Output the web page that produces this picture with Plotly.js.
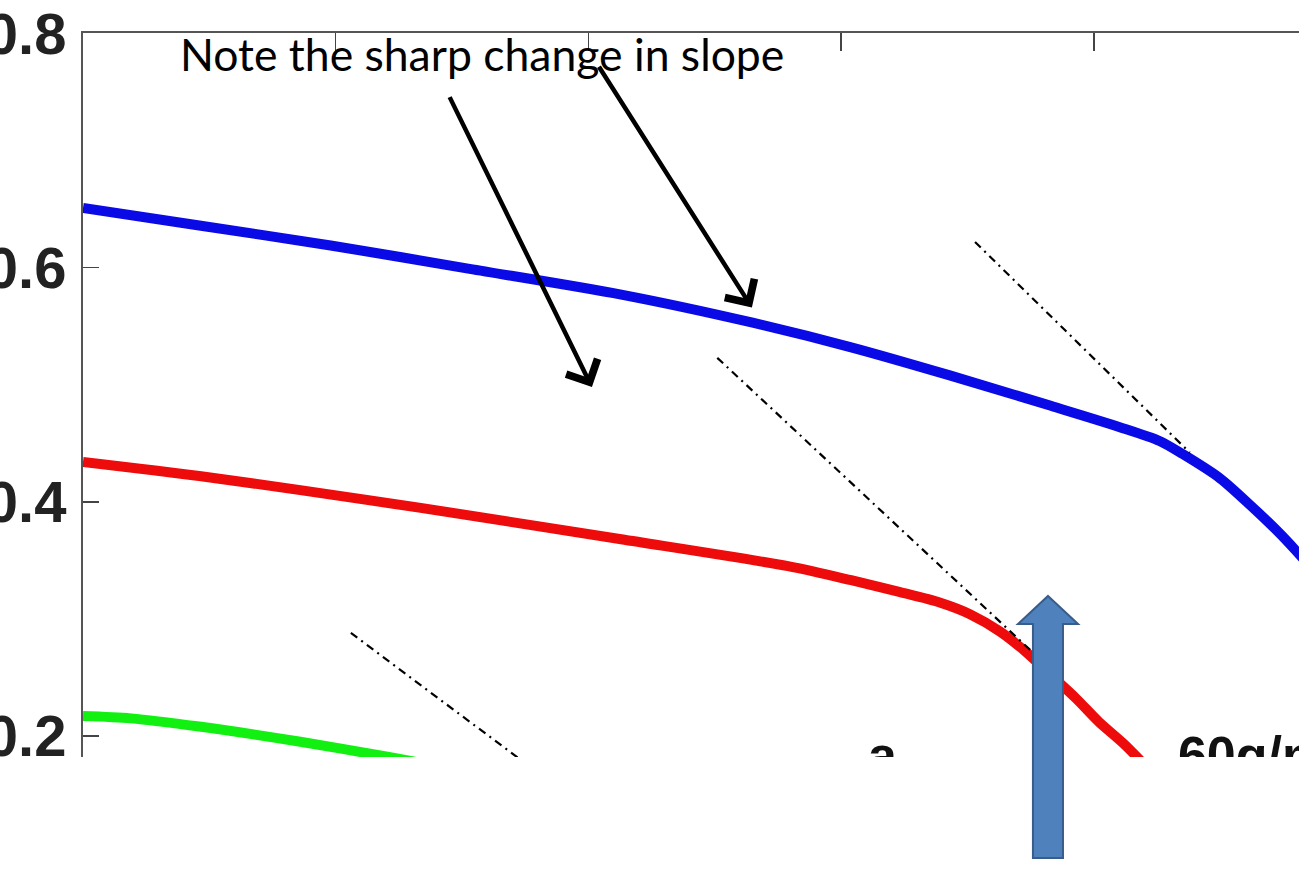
<!DOCTYPE html>
<html>
<head>
<meta charset="utf-8">
<script src="https://cdn.plot.ly/plotly-3.0.1.min.js"></script>
<style>
  html, body { margin: 0; padding: 0; background: #fff; overflow: hidden; }
  #chart { width: 1299px; height: 872px; }
</style>
</head>
<body>
<div id="chart"></div>
<script>
// values (x in tick units, y on the 0.2..0.8 scale)
const blueX = [0, 0.46, 0.98, 1.53, 2.13, 2.65, 3.04, 3.43, 3.83, 4.10, 4.26, 4.35, 4.50, 4.62, 4.74, 4.86];
const blueY = [0.651, 0.636, 0.619, 0.599, 0.577, 0.553, 0.532, 0.508, 0.482, 0.464, 0.452, 0.441, 0.420, 0.397, 0.372, 0.344];

const redX = [0, 0.46, 0.86, 1.33, 2.13, 2.79, 3.04, 3.23, 3.39, 3.51, 3.63, 3.73, 3.83, 3.93, 4.02, 4.12, 4.22];
const redY = [0.434, 0.422, 0.410, 0.395, 0.368, 0.345, 0.333, 0.323, 0.314, 0.304, 0.289, 0.272, 0.252, 0.232, 0.212, 0.193, 0.171];

const greenX = [0, 0.19, 0.46, 0.86, 1.21, 1.49];
const greenY = [0.217, 0.215, 0.208, 0.195, 0.182, 0.171];

// dash-dot tangents
const blueTanX = [3.53, 4.38];
const blueTanY = [0.622, 0.442];
const redTanX = [2.51, 3.80];
const redTanY = [0.523, 0.263];
const greenTanX = [1.06, 1.81];
const greenTanY = [0.288, 0.167];

// labels
const yTicks = [0.2, 0.4, 0.6, 0.8];
const yTickText = ['0.2', '0.4', '0.6', '0.8'];
const xTicks = [0, 1, 2, 3, 4];
const noteText = 'Note the sharp change in slope';
const bottomLabels = ['a', '60g/m²'];
const bottomLabelX = [3.106, 4.333];
const bottomLabelY = [0.2014, 0.2014];

function curve(x, y, color) {
    return {
        x: x, y: y,
        type: 'scatter',
        mode: 'lines',
        line: { color: color, width: 10, shape: 'spline', smoothing: 0.8 },
        hoverinfo: 'skip'
    };
}

function tangent(x, y) {
    return {
        x: x, y: y,
        type: 'scatter',
        mode: 'lines',
        line: { color: '#000', width: 2.2, dash: '8px,5px,2px,5px' },
        hoverinfo: 'skip'
    };
}

const traces = [
    curve(greenX, greenY, '#12f012'),
    curve(redX, redY, '#ee0b0b'),
    curve(blueX, blueY, '#0a0ae6'),
    tangent(greenTanX, greenTanY),
    tangent(redTanX, redTanY),
    tangent(blueTanX, blueTanY),
    {
        x: bottomLabelX, y: bottomLabelY,
        text: bottomLabels,
        type: 'scatter',
        mode: 'text',
        textposition: 'bottom right',
        cliponaxis: true,
        textfont: { family: 'Liberation Sans, Arial, sans-serif', size: 52, weight: 'bold', color: '#111' },
        hoverinfo: 'skip'
    }
];

const layout = {
    width: 1299,
    height: 872,
    margin: { l: 83, r: 0, t: 33, b: 115 },
    showlegend: false,
    paper_bgcolor: '#fff',
    plot_bgcolor: '#fff',
    xaxis: {
        side: 'top',
        range: [0, 4.812],
        tickvals: xTicks,
        ticks: 'inside',
        ticklen: 18,
        tickwidth: 1.5,
        tickcolor: '#444',
        showticklabels: false,
        showgrid: false,
        zeroline: false,
        showline: true,
        linecolor: '#555',
        linewidth: 2
    },
    yaxis: {
        range: [0.182, 0.8005],
        tickvals: yTicks,
        ticktext: yTickText,
        ticks: 'inside',
        ticklen: 16,
        tickwidth: 1.5,
        tickcolor: '#444',
        ticklabelstandoff: 3,
        tickfont: { family: 'Liberation Sans, Arial, sans-serif', size: 58, weight: 'bold', color: '#222' },
        showgrid: false,
        zeroline: false,
        showline: true,
        linecolor: '#555',
        linewidth: 2
    },
    shapes: [
        // page below the cropped figure
        { type: 'rect', xref: 'paper', yref: 'paper', x0: -0.2, x1: 1.1, y0: -0.2, y1: 0,
          fillcolor: '#fff', line: { width: 0 }, layer: 'above' },
        // big up arrow
        { type: 'path', xref: 'paper', yref: 'paper', layer: 'above',
          path: 'M0.7936,0.2224 L0.8183,0.1837 L0.8059,0.1837 L0.8059,-0.1395 L0.7812,-0.1395 L0.7812,0.1837 L0.7689,0.1837 Z',
          fillcolor: '#4f81bd', line: { color: '#385d8a', width: 2 } }
    ],
    annotations: [
        { x: 1.579, y: 0.783, xref: 'x', yref: 'y', text: noteText, showarrow: false,
          xanchor: 'center', yanchor: 'middle',
          font: { family: 'Lato, Open Sans, sans-serif', size: 44.5, color: '#000' } },
        { x: 2.014, y: 0.498, ax: 1.448, ay: 0.747, xref: 'x', yref: 'y', axref: 'x', ayref: 'y',
          text: '', showarrow: true, arrowhead: 4, arrowsize: 1.5, arrowwidth: 4.5, arrowcolor: '#000' },
        { x: 2.647, y: 0.566, ax: 2.038, ay: 0.773, xref: 'x', yref: 'y', axref: 'x', ayref: 'y',
          text: '', showarrow: true, arrowhead: 4, arrowsize: 1.5, arrowwidth: 4.5, arrowcolor: '#000' }
    ]
};

Plotly.newPlot('chart', traces, layout, { displayModeBar: false, staticPlot: true });
</script>
</body>
</html>
